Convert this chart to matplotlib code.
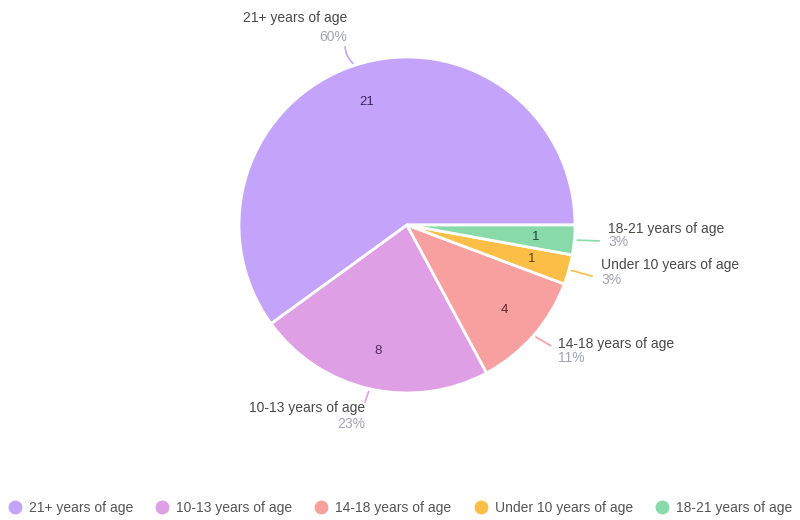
import numpy as np
import matplotlib
matplotlib.use('Agg')
import matplotlib.pyplot as plt

# data
categories = ['21+ years of age', '10-13 years of age', '14-18 years of age',
              'Under 10 years of age', '18-21 years of age']
counts = [21, 8, 4, 1, 1]
colors = ['#c4a4fb', '#df9fe5', '#f8a0a0', '#fbbf48', '#88dba9']
inner_colors = ['#3a2866', '#5a2a5e', '#5e2a2a', '#5a4210', '#1f4a33']

plt.rcParams['font.family'] = ['Liberation Sans', 'DejaVu Sans']

W, H = 800, 520
cx, cy, R = 407, 225, 168  # pie centre and radius in pixels (from top)

fig = plt.figure(figsize=(8, 5.2), dpi=100)
ax = fig.add_axes([(cx - R) / W, (H - cy - R) / H, 2 * R / W, 2 * R / H])

wedges, _, autotexts = ax.pie(
    counts, colors=colors, startangle=0, counterclock=True,
    autopct=lambda p: f'{p * sum(counts) / 100:.0f}', pctdistance=0.77,
    wedgeprops=dict(edgecolor='white', linewidth=2),
    textprops=dict(fontsize=9.5))
for t, c in zip(autotexts, inner_colors):
    t.set_color(c)
ax.set_xlim(-1, 1)
ax.set_ylim(-1, 1)
ax.set_aspect('auto')


def px(x, y):
    return (x - cx) / R, (cy - y) / R


# outer label placement (pixels): text anchor x, name y, pct y, align, line end, rad
label_pos = [
    (347, 18, 37, 'right', (345, 44), 0.25),
    (365, 408, 424, 'right', (364, 405), 0.0),
    (558, 344, 358, 'left', (553, 347), 0.0),
    (601, 265, 280, 'left', (595, 277), 0.0),
    (608, 229, 242, 'left', (602, 241), 0.0),
]

total = sum(counts)
pct_color = '#a3a3b5'
for w, name, n, col, (tx, ny, py, ha, lend, rad) in zip(
        wedges, categories, counts, colors, label_pos):
    ang = np.deg2rad((w.theta1 + w.theta2) / 2)
    edge = (np.cos(ang), np.sin(ang))
    ax.annotate('', xy=edge, xytext=px(*lend),
                arrowprops=dict(arrowstyle='-', color=col, lw=1.2,
                                connectionstyle=f'arc3,rad={rad}'),
                annotation_clip=False)
    ax.text(*px(tx, ny), name, ha=ha, va='center', fontsize=10,
            color='#4a4a4a', clip_on=False)
    ax.text(*px(tx, py), f'{n / total * 100:.0f}%', ha=ha, va='center',
            fontsize=10, color=pct_color, clip_on=False)

handles = [plt.Line2D([], [], marker='o', linestyle='', markersize=9,
                      markerfacecolor=c, markeredgecolor=c) for c in colors]
fig.legend(handles, categories, loc='center', bbox_to_anchor=(0.5, 1 - 508 / H),
           ncol=5, frameon=False, fontsize=10, handlelength=1.0,
           handletextpad=0.5, columnspacing=1.6, labelcolor='#555555')

fig.savefig('out.png', dpi=100, facecolor='white')
